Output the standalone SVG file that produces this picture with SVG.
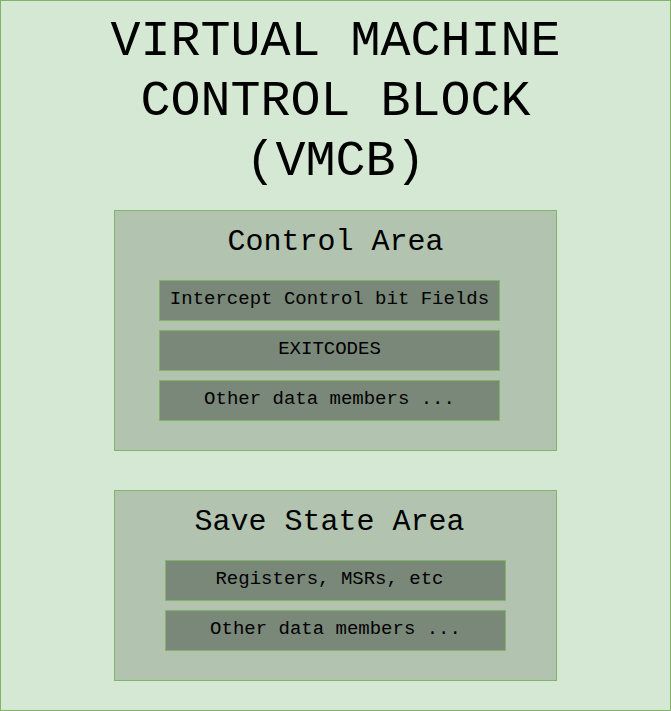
<svg xmlns="http://www.w3.org/2000/svg" width="671" height="711" viewBox="0 0 671 711">
<style>
.t{font-family:"Liberation Mono","Courier New",monospace;fill:#000;text-anchor:middle}
.area{fill:#b2c4b0;stroke:#82b366;stroke-width:1}
.item{fill:#7a887a;stroke:#82b366;stroke-width:1}
</style>
<g id="vmcb">
<rect x="0.5" y="0.5" width="670" height="710" fill="#d5e8d4" stroke="#82b366"/>
<text class="t" x="335.5" y="55" font-size="50">VIRTUAL MACHINE</text>
<text class="t" x="335.5" y="115" font-size="50">CONTROL BLOCK</text>
<text class="t" x="335.5" y="175" font-size="50">(VMCB)</text>
</g>
<g id="control-area">
<rect class="area" x="114.5" y="210.5" width="442" height="240"/>
<text class="t" x="335.5" y="250" font-size="30">Control Area</text>
</g>
<g id="intercept">
<rect class="item" x="159.5" y="280.5" width="340" height="40"/>
<text class="t" x="329.5" y="304" font-size="19">Intercept Control bit Fields</text>
</g>
<g id="exitcodes">
<rect class="item" x="159.5" y="330.5" width="340" height="40"/>
<text class="t" x="329.5" y="354" font-size="19">EXITCODES</text>
</g>
<g id="other1">
<rect class="item" x="159.5" y="380.5" width="340" height="40"/>
<text class="t" x="329.5" y="404" font-size="19">Other data members ...</text>
</g>
<g id="save-state-area">
<rect class="area" x="114.5" y="490.5" width="442" height="190"/>
<text class="t" x="329.5" y="530" font-size="30">Save State Area</text>
</g>
<g id="registers">
<rect class="item" x="165.5" y="560.5" width="340" height="40"/>
<text class="t" x="329.5" y="584" font-size="19">Registers, MSRs, etc</text>
</g>
<g id="other2">
<rect class="item" x="165.5" y="610.5" width="340" height="40"/>
<text class="t" x="335.5" y="634" font-size="19">Other data members ...</text>
</g>
<g id="connectors"></g>
</svg>
